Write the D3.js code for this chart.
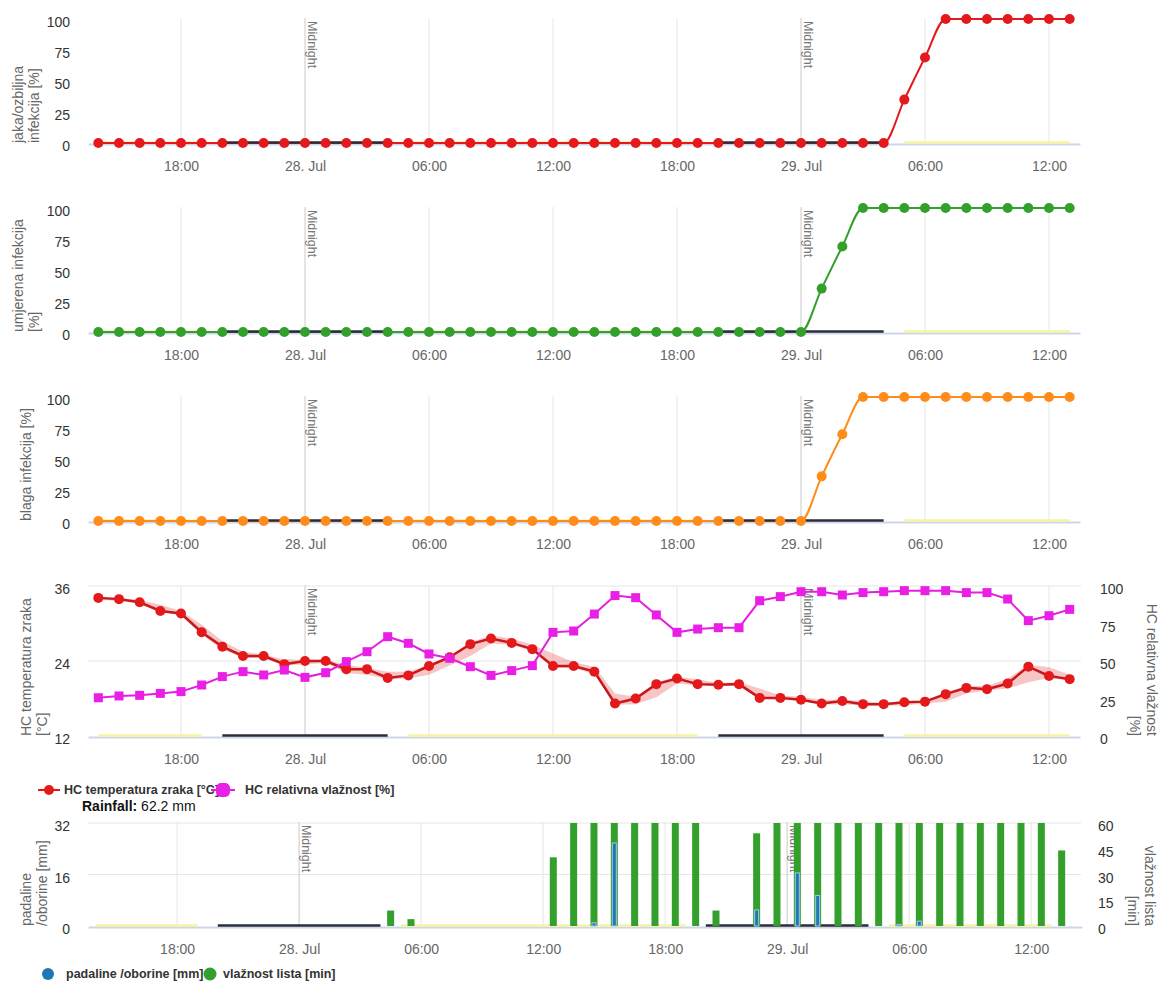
<!DOCTYPE html>
<html>
<head>
<meta charset="utf-8">
<script src="https://cdn.jsdelivr.net/npm/d3@7"></script>
<style>
  body { margin: 0; background: #fff; }
  text { font-family: "Liberation Sans", Arial, Helvetica, sans-serif; }
</style>
</head>
<body>
<div id="chart"></div>
<script>
// hourly readings from 27. Jul 14:00 to 29. Jul 13:00
var startHour = new Date(2023, 6, 27, 14);
var hours = d3.range(48).map(i => d3.timeHour.offset(startHour, i));

// infection risk [%]
var jaka = [0,0,0,0,0,0,0,0,0,0, 0,0,0,0,0,0,0,0,0,0, 0,0,0,0,0,0,0,0,0,0, 0,0,0,0,0,0,0,0,0,35, 69,100,100,100,100,100,100,100];
var umjerena = [0,0,0,0,0,0,0,0,0,0, 0,0,0,0,0,0,0,0,0,0, 0,0,0,0,0,0,0,0,0,0, 0,0,0,0,0,35,69,100,100,100, 100,100,100,100,100,100,100,100];
var blaga = [0,0,0,0,0,0,0,0,0,0, 0,0,0,0,0,0,0,0,0,0, 0,0,0,0,0,0,0,0,0,0, 0,0,0,0,0,36,70,100,100,100, 100,100,100,100,100,100,100,100];

// air temperature [°C] with hourly min / max
var temp = [34.1,33.9,33.4,32.0,31.6,28.6,26.3,24.8,24.8,23.5, 24.0,24.0,22.7,22.7,21.3,21.7,23.2,24.6,26.7,27.6, 26.9,25.9,23.2,23.2,22.3,17.2,18.0,20.3,21.2,20.3, 20.2,20.3,18.1,18.1,17.8,17.2,17.6,17.1,17.1,17.4, 17.5,18.7,19.7,19.5,20.4,23.1,21.6,21.1];
var tempLow = [33.8,33.6,33.2,31.9,31.3,28.2,25.9,24.5,24.5,23.3, 23.5,23.7,22.1,21.8,21.1,21.2,21.8,23.3,24.8,26.8, 26.6,25.6,22.9,22.9,21.9,17.0,17.1,18.2,20.4,20.1, 20.0,20.0,18.0,17.9,17.6,17.0,17.1,16.9,16.9,16.9, 17.2,17.5,18.8,19.3,19.6,20.6,21.3,20.9];
var tempHigh = [34.3,34.1,33.8,33.0,32.0,29.8,27.2,25.5,25.0,24.3, 24.2,24.2,23.4,22.9,22.3,22.3,23.4,24.8,27.0,28.1, 27.6,26.6,25.2,23.8,23.1,18.8,18.3,20.6,21.5,21.1, 20.5,20.6,19.6,18.5,18.3,17.8,17.8,17.6,17.3,17.6, 17.7,19.0,20.0,20.0,21.2,23.4,23.0,21.8];

// relative humidity [%]
var humidity = [25.5,26.7,27.1,28.4,29.6,34,39.6,42.9,40.7,44, 39.1,42.2,49.6,56.2,66.2,61.8,54.7,51.8,46.2,40.4, 43.6,46.9,69.1,70,81.3,93.6,92.2,80.7,69.1,71.3, 72.2,72.2,90.2,92.9,96.2,96.2,94,95.6,96.2,96.9, 96.9,96.9,95.6,95.6,91.3,76.9,80.2,84.4];

// leaf wetness [min] per hour, plotted at half past the hour
var leafWet = [0,0,0,0,0,0,0,0,0,0, 0,0,0,0,9,4,0,0,0,0, 0,0,40,60,60,60,60,60,60,60, 9,0,54,60,60,60,60,60,60,60, 60,60,60,60,60,60,60,44];

// rainfall [mm]
var rainTimes = [new Date(2023,6,28,14,30), new Date(2023,6,28,15,30), new Date(2023,6,28,22,30), new Date(2023,6,29,0,30), new Date(2023,6,29,1,30), new Date(2023,6,29,5,30), new Date(2023,6,29,6,30)];
var rainValues = [1.0, 25.8, 5.0, 16.5, 9.5, 0.5, 1.5];
var rainTotal = "62.2 mm";

// day / night strip along the x axis
var dayNight = [
  { from: new Date(2023,6,27,14), to: new Date(2023,6,27,19), night: false },
  { from: new Date(2023,6,27,20), to: new Date(2023,6,28,4), night: true },
  { from: new Date(2023,6,28,5), to: new Date(2023,6,28,19), night: false },
  { from: new Date(2023,6,28,20), to: new Date(2023,6,29,4), night: true },
  { from: new Date(2023,6,29,5), to: new Date(2023,6,29,13), night: false }
];

var midnights = [new Date(2023,6,28), new Date(2023,6,29)];
var tickTimes = [new Date(2023,6,27,18), new Date(2023,6,28,0), new Date(2023,6,28,6), new Date(2023,6,28,12),
  new Date(2023,6,28,18), new Date(2023,6,29,0), new Date(2023,6,29,6), new Date(2023,6,29,12)];

var svgWidth = 1160, svgHeight = 987;
var svg = d3.select("#chart").append("svg")
  .attr("width", svgWidth).attr("height", svgHeight);

var xMain = d3.scaleTime()
  .domain([new Date(2023,6,27,13,30), new Date(2023,6,29,13,30)])
  .range([88, 1080]);
var xBars = d3.scaleTime()
  .domain([new Date(2023,6,27,13,37), new Date(2023,6,29,14,30)])
  .range([88, 1082]);

function tickFmt(d) {
  return d.getHours() === 0 ? d3.timeFormat("%d. %b")(d) : d3.timeFormat("%H:%M")(d);
}

// grid, midnight lines and x axis
function drawFrame(x, top, bottom) {
  var g = svg.append("g");
  g.selectAll(".vgrid").data(tickTimes).enter().append("line")
    .attr("x1", d => x(d)).attr("x2", d => x(d))
    .attr("y1", top - 1).attr("y2", bottom)
    .attr("stroke", "#e6e6e6");
  g.selectAll(".mid").data(midnights).enter().append("line")
    .attr("x1", d => x(d)).attr("x2", d => x(d))
    .attr("y1", top - 1).attr("y2", bottom)
    .attr("stroke", "#d6d6d6");
  g.selectAll(".midlabel").data(midnights).enter().append("text")
    .attr("transform", d => `translate(${x(d) + 3},${top + 2}) rotate(90)`)
    .attr("font-size", "12.5px").attr("fill", "#777")
    .text("Midnight");

  var axis = d3.axisBottom(x).tickValues(tickTimes).tickFormat(tickFmt).tickSize(0);
  var ag = g.append("g").attr("transform", `translate(0,${bottom})`).call(axis);
  ag.select(".domain").attr("stroke", "#ccd6eb").attr("stroke-width", 2);
  ag.selectAll("text").attr("font-size", "14px").attr("fill", "#666")
    .attr("font-family", "Liberation Sans, Arial, sans-serif")
    .attr("y", 17).attr("dy", "0.71em");
  return g;
}

// day (yellow) / night (dark) strip just above the axis
function drawStrip(x, bottom, night) {
  svg.append("g").selectAll("line").data(dayNight.filter(d => d.night === night)).enter().append("line")
    .attr("x1", d => x(d.from)).attr("x2", d => x(d.to))
    .attr("y1", bottom - 1.5).attr("y2", bottom - 1.5)
    .attr("stroke", d => d.night ? "#2c2c3a" : "#f6f3a2")
    .attr("stroke-width", 2.5);
}

function hGrid(values, y) {
  svg.append("g").selectAll("line").data(values).enter().append("line")
    .attr("x1", 88).attr("x2", 1081)
    .attr("y1", d => y(d)).attr("y2", d => y(d))
    .attr("stroke", "#e6e6e6");
}

function leftTicks(values, y, xRight) {
  svg.append("g").selectAll("text").data(values).enter().append("text")
    .attr("x", xRight).attr("y", d => y(d) + 8)
    .attr("text-anchor", "end").attr("font-size", "14px").attr("fill", "#333")
    .text(d => d);
}

function rightTicks(values, y, xLeft) {
  svg.append("g").selectAll("text").data(values).enter().append("text")
    .attr("x", xLeft).attr("y", d => y(d) + 8)
    .attr("font-size", "14px").attr("fill", "#333")
    .text(d => d);
}

// axis titles end at the bottom of the plot
function leftTitle(lines, xs, bottom) {
  lines.forEach(function(t, i) {
    svg.append("text")
      .attr("transform", `translate(${xs[i]},${bottom}) rotate(-90)`)
      .attr("font-size", "14px").attr("fill", "#666")
      .text(t);
  });
}
function rightTitle(lines, xs, bottom) {
  lines.forEach(function(t, i) {
    svg.append("text")
      .attr("transform", `translate(${xs[i]},${bottom}) rotate(90)`)
      .attr("text-anchor", "end")
      .attr("font-size", "14px").attr("fill", "#666")
      .text(t);
  });
}

// three infection panels
var infPanels = [
  { data: jaka, color: "#e3191c", top: 19, bottom: 143, title: ["jaka/ozbiljna", "infekcija [%]"], tx: [23, 39] },
  { data: umjerena, color: "#33a02c", top: 208, bottom: 332, title: ["umjerena infekcija", "[%]"], tx: [23, 39] },
  { data: blaga, color: "#ff8c1a", top: 397, bottom: 521, title: ["blaga infekcija [%]"], tx: [31] }
];

infPanels.forEach(function(p) {
  var y = d3.scaleLinear().domain([0, 100]).range([p.bottom, p.top]);
  drawFrame(xMain, p.top, p.bottom + 1);
  drawStrip(xMain, p.bottom + 1, false);
  leftTicks([0, 25, 50, 75, 100], y, 70);
  leftTitle(p.title, p.tx, p.bottom);

  var line = d3.line().x((d, i) => xMain(hours[i])).y(d => y(d)).curve(d3.curveMonotoneX);
  svg.append("path").datum(p.data)
    .attr("d", line).attr("fill", "none")
    .attr("stroke", p.color).attr("stroke-width", 2);
  drawStrip(xMain, p.bottom + 1, true);
  svg.append("g").selectAll("circle").data(p.data).enter().append("circle")
    .attr("cx", (d, i) => xMain(hours[i])).attr("cy", d => y(d))
    .attr("r", 5).attr("fill", p.color);
});

// temperature / humidity panel
var tTop = 586, tBottom = 736;
var yTemp = d3.scaleLinear().domain([12, 36]).range([tBottom, tTop]);
var yHum = d3.scaleLinear().domain([0, 100]).range([tBottom, tTop]);
hGrid([24, 36], yTemp);
drawFrame(xMain, tTop, tBottom + 1);
drawStrip(xMain, tBottom + 1, false);
drawStrip(xMain, tBottom + 1, true);
leftTicks([12, 24, 36], yTemp, 70);
rightTicks([0, 25, 50, 75, 100], yHum, 1100);
leftTitle(["HC temperatura zraka", "[°C]"], [31, 47], tBottom);
rightTitle(["HC relativna vlažnost", "[%]"], [1147, 1130], tBottom);

var band = d3.area()
  .x((d, i) => xMain(hours[i]))
  .y0((d, i) => yTemp(tempLow[i]))
  .y1((d, i) => yTemp(tempHigh[i]));
svg.append("path").datum(temp).attr("d", band)
  .attr("fill", "#e8585a").attr("fill-opacity", 0.35);

var tempLine = d3.line().x((d, i) => xMain(hours[i])).y(d => yTemp(d));
svg.append("path").datum(temp).attr("d", tempLine)
  .attr("fill", "none").attr("stroke", "#c9181b").attr("stroke-width", 2.5);
svg.append("g").selectAll("circle").data(temp).enter().append("circle")
  .attr("cx", (d, i) => xMain(hours[i])).attr("cy", d => yTemp(d))
  .attr("r", 5).attr("fill", "#e3191c");

var humLine = d3.line().x((d, i) => xMain(hours[i])).y(d => yHum(d));
svg.append("path").datum(humidity).attr("d", humLine)
  .attr("fill", "none").attr("stroke", "#e41fe0").attr("stroke-width", 2);
svg.append("g").selectAll("rect").data(humidity).enter().append("rect")
  .attr("x", (d, i) => xMain(hours[i]) - 4.5).attr("y", d => yHum(d) - 4.5)
  .attr("width", 9).attr("height", 9).attr("fill", "#ea1fe6");

// legend of the temperature panel
var lg = svg.append("g");
lg.append("line").attr("x1", 38).attr("x2", 60).attr("y1", 790).attr("y2", 790)
  .attr("stroke", "#e3191c").attr("stroke-width", 2);
lg.append("circle").attr("cx", 49).attr("cy", 790).attr("r", 5).attr("fill", "#e3191c");
lg.append("text").attr("x", 64).attr("y", 794).attr("font-size", "12.5px")
  .attr("font-weight", "bold").attr("fill", "#333").text("HC temperatura zraka [°C]");
lg.append("line").attr("x1", 211).attr("x2", 235).attr("y1", 790).attr("y2", 790)
  .attr("stroke", "#e41fe0").attr("stroke-width", 2);
lg.append("rect").attr("x", 216).attr("y", 783).attr("width", 14).attr("height", 14)
  .attr("rx", 5).attr("fill", "#ea1fe6");
lg.append("text").attr("x", 245).attr("y", 794).attr("font-size", "12.5px")
  .attr("font-weight", "bold").attr("fill", "#333").text("HC relativna vlažnost [%]");

var rf = svg.append("text").attr("x", 82).attr("y", 811).attr("font-size", "14px").attr("fill", "#111");
rf.append("tspan").attr("font-weight", "bold").text("Rainfall:");
rf.append("tspan").text(" " + rainTotal);

// rainfall / leaf wetness panel
var bTop = 823, bBottom = 926;
var yRain = d3.scaleLinear().domain([0, 32]).range([bBottom, bTop]);
var yLeaf = d3.scaleLinear().domain([0, 60]).range([bBottom, bTop]);
hGrid([16, 32], yRain);
drawFrame(xBars, bTop, bBottom + 1);
drawStrip(xBars, bBottom + 1, false);
drawStrip(xBars, bBottom + 1, true);
leftTicks([0, 16, 32], yRain, 70);
rightTicks([0, 15, 30, 45, 60], yLeaf, 1098);
leftTitle(["padaline", "/oborine [mm]"], [31, 47], bBottom);
rightTitle(["vlažnost lista", "[min]"], [1145, 1128], bBottom);

svg.append("g").selectAll("rect").data(leafWet).enter().append("rect")
  .attr("x", (d, i) => xBars(d3.timeMinute.offset(hours[i], 30)) - 3.5)
  .attr("y", d => yLeaf(d))
  .attr("width", 7).attr("height", d => bBottom - yLeaf(d))
  .attr("fill", "#33a02c");

svg.append("g").selectAll("rect").data(rainValues).enter().append("rect")
  .attr("x", (d, i) => xBars(rainTimes[i]) - 2)
  .attr("y", d => yRain(d))
  .attr("width", 4).attr("height", d => bBottom - yRain(d))
  .attr("fill", "#1f78b4").attr("stroke", "#9ecae9").attr("stroke-width", 1);

// legend of the bottom panel
var lg2 = svg.append("g");
lg2.append("circle").attr("cx", 48).attr("cy", 974).attr("r", 6).attr("fill", "#1f78b4");
lg2.append("text").attr("x", 66).attr("y", 978).attr("font-size", "12.5px")
  .attr("font-weight", "bold").attr("fill", "#333").text("padaline /oborine [mm]");
lg2.append("circle").attr("cx", 210).attr("cy", 974).attr("r", 6.5).attr("fill", "#33a02c");
lg2.append("text").attr("x", 223).attr("y", 978).attr("font-size", "12.5px")
  .attr("font-weight", "bold").attr("fill", "#333").text("vlažnost lista [min]");
</script>
</body>
</html>
